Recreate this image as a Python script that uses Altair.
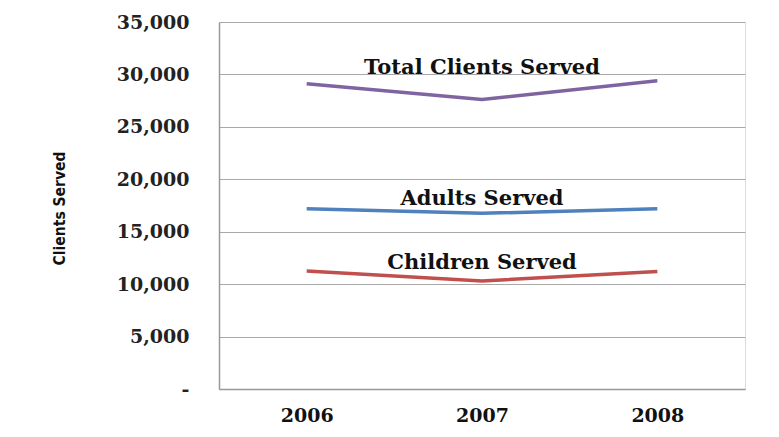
import altair as alt
import pandas as pd

years = ["2006", "2007", "2008"]
series = ["Total Clients Served", "Adults Served", "Children Served"]
total = [29100, 27600, 29400]
adults = [17200, 16750, 17200]
children = [11250, 10300, 11200]
colors = ["#8064A2", "#4F81BD", "#C0504D"]
label_year = ["2007", "2007", "2007"]
label_y = [30650, 18150, 12050]

rows = []
for s, vals in zip(series, [total, adults, children]):
    for y, v in zip(years, vals):
        rows.append({"Year": y, "Series": s, "Clients": v})
df = pd.DataFrame(rows)
lab = pd.DataFrame({"Year": label_year, "Series": series, "Clients": label_y})

SERIF = "DejaVu Serif"
xenc = alt.X("Year:N", sort=years, title=None,
             scale=alt.Scale(paddingInner=0, paddingOuter=0.5),
             axis=alt.Axis(labelAngle=0, ticks=False, labelPadding=17,
                           labelFont=SERIF, labelFontWeight="bold",
                           labelFontSize=19, labelColor="#111", domainColor="#999",
                           domainWidth=1.5))
yenc = alt.Y("Clients:Q", scale=alt.Scale(domain=[0, 35000], nice=False),
             title="Clients Served",
             axis=alt.Axis(values=[0, 5000, 10000, 15000, 20000, 25000, 30000, 35000],
                           labelExpr="datum.value == 0 ? '-' : format(datum.value, ',')",
                           ticks=False, labelPadding=30,
                           labelFont=SERIF, labelFontWeight="bold",
                           labelFontSize=19, labelColor="#222",
                           domainColor="#999", domainWidth=1.5,
                           gridColor="#a8a8a8", gridWidth=1.2,
                           titleFont="Liberation Sans Narrow, DejaVu Sans Condensed, sans-serif",
                           titleFontWeight="bold",
                           titleFontSize=15.5, titleColor="#111",
                           titleX=-160, titleY=186, titleAngle=-90,
                           titleBaseline="middle"))

color = alt.Color("Series:N", scale=alt.Scale(domain=series, range=colors), legend=None)

lines = alt.Chart(df).mark_line(strokeWidth=3.5).encode(x=xenc, y=yenc, color=color)
texts = alt.Chart(lab).mark_text(font=SERIF, fontWeight="bold",
                                 fontSize=21, color="#111", baseline="middle").encode(
    x=alt.X("Year:N", sort=years), y="Clients:Q", text="Series:N")

chart = (lines + texts).properties(
    width=526, height=367,
    autosize=alt.AutoSizeParams(type="none"),
    padding={"left": 211, "top": 14, "right": 26, "bottom": 40},
).configure_view(stroke=None).configure(background="white")

chart.save("out.html", embed_options={"renderer": "svg", "actions": False})
